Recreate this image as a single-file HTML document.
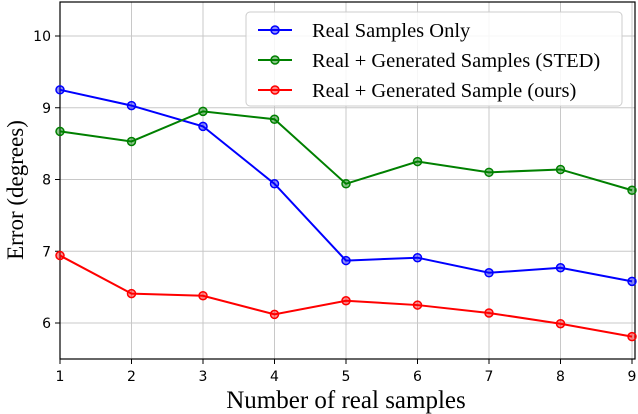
<!DOCTYPE html>
<html><head><meta charset="utf-8"><style>
body{margin:0;background:#fff;width:638px;height:414px;overflow:hidden}
svg{display:block}
</style></head><body>
<svg id="chart" width="638" height="414" xmlns="http://www.w3.org/2000/svg"></svg>
<script>
const categories=[1,2,3,4,5,6,7,8,9];
const yTicks=[6,7,8,9,10];
const realOnly=[9.25,9.03,8.74,7.94,6.87,6.91,6.70,6.77,6.58];
const sted=[8.67,8.53,8.95,8.84,7.94,8.25,8.10,8.14,7.85];
const ours=[6.94,6.41,6.38,6.12,6.31,6.25,6.14,5.99,5.81];
const seriesNames=["Real Samples Only","Real + Generated Samples (STED)","Real + Generated Sample (ours)"];
const NS="http://www.w3.org/2000/svg";
const svg=document.getElementById('chart');
const L=60,R=635,T=2,B=359;
const xs=v=>60+(v-1)*71.5;
const ys=v=>323-(v-6)*71.75;
function mk(tag,a,parent){const e=document.createElementNS(NS,tag);for(const k in a)e.setAttribute(k,a[k]);(parent||svg).appendChild(e);return e;}
categories.forEach(c=>{const g=mk('line',{x1:xs(c),x2:xs(c),y1:T,y2:B,stroke:'#c8c8c8','stroke-width':1});


const t=mk('line',{x1:xs(c),x2:xs(c),y1:B,y2:B+5,stroke:'#000'});


const l=mk('text',{x:xs(c),y:B+22,'text-anchor':'middle','font-family':'DejaVu Sans, sans-serif','font-size':14});l.textContent=c;

});
yTicks.forEach(v=>{const g=mk('line',{x1:L,x2:R,y1:ys(v),y2:ys(v),stroke:'#c8c8c8','stroke-width':1});


const t=mk('line',{x1:L-5,x2:L,y1:ys(v),y2:ys(v),stroke:'#000'});


const l=mk('text',{x:L-9,y:ys(v)+5,'text-anchor':'end','font-family':'DejaVu Sans, sans-serif','font-size':14});l.textContent=v;

});
const frame=mk('rect',{x:L,y:T,width:R-L,height:B-T,fill:'none',stroke:'#000','stroke-width':1.2});


const series=[[realOnly,'#0000ff','real-only'],[sted,'#008000','sted'],[ours,'#ff0000','ours']];
series.forEach(([d,c,n])=>{
const p=mk('polyline',{points:d.map((v,i)=>xs(categories[i])+','+ys(v)).join(' '),fill:'none',stroke:c,'stroke-width':2});


d.forEach((v,i)=>{const m=mk('circle',{cx:xs(categories[i]),cy:ys(v),r:4,fill:c,'fill-opacity':0.45,stroke:c,'stroke-width':1.5});

});
});
const lg=mk('g',{});


mk('rect',{x:246,y:12,width:376,height:94,rx:4,fill:'#fff','fill-opacity':0.85,stroke:'#ccc'},lg);
series.forEach(([d,c,n],i)=>{const y=30+i*30;
mk('line',{x1:258,x2:292,y1:y,y2:y,stroke:c,'stroke-width':2},lg);
mk('circle',{cx:275,cy:y,r:4,fill:c,'fill-opacity':0.45,stroke:c,'stroke-width':1.5},lg);
const t=mk('text',{x:312,y:y+7,'font-family':'Liberation Serif, serif','font-size':20.5},lg);t.textContent=seriesNames[i];

});
const xt=mk('text',{x:346,y:408,'text-anchor':'middle','font-family':'Liberation Serif, serif','font-size':25});xt.textContent='Number of real samples';


const yt=mk('text',{x:0,y:0,'text-anchor':'middle','font-family':'Liberation Serif, serif','font-size':23,transform:'translate(23,190) rotate(-90)'});yt.textContent='Error (degrees)';


</script>
</body></html>
